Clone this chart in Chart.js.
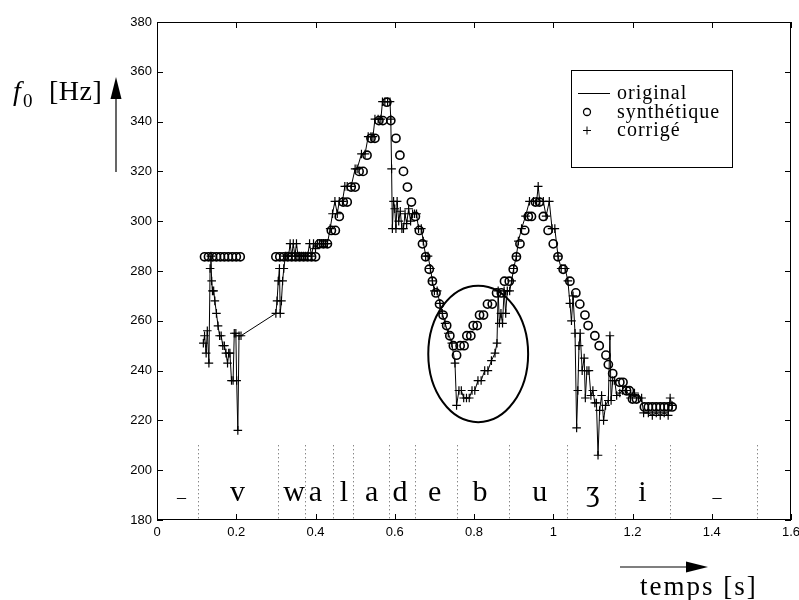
<!DOCTYPE html>
<html>
<head>
<meta charset="utf-8">
<script src="https://cdn.jsdelivr.net/npm/chart.js@4.4.0/dist/chart.umd.min.js"></script>
<style>
  html, body { margin: 0; padding: 0; background: #fff; }
  #wrap { width: 799px; height: 600px; }
</style>
</head>
<body>
<div id="wrap"><canvas id="grafico" width="799" height="600"></canvas></div>
<script>
// contour original (f0 mesuré), temps en s / fréquence en Hz
const origT = [
  0.117, 0.12, 0.124, 0.127, 0.131, 0.134, 0.136, 0.138, 0.14, 0.143, 0.146, 0.15, 0.154, 0.158, 0.162,
  0.166, 0.17, 0.174, 0.178, 0.181, 0.184, 0.188, 0.192, 0.195, 0.199, 0.201, 0.204, 0.207, 0.212,
  0.30, 0.303, 0.306, 0.309, 0.311, 0.314, 0.317, 0.32, 0.324, 0.328, 0.332, 0.336, 0.34, 0.344, 0.348,
  0.352, 0.356, 0.36, 0.365, 0.37, 0.375, 0.38, 0.385, 0.39, 0.395, 0.40, 0.405, 0.41, 0.415, 0.42,
  0.425, 0.43, 0.437, 0.443, 0.449, 0.455, 0.46, 0.468, 0.474, 0.48, 0.49, 0.50, 0.505, 0.516, 0.525,
  0.533, 0.54, 0.545, 0.55, 0.558, 0.565, 0.569, 0.575, 0.582, 0.588, 0.59, 0.592, 0.594, 0.597, 0.60,
  0.603, 0.606, 0.61, 0.614, 0.618, 0.622, 0.626, 0.63, 0.635, 0.64, 0.645, 0.65, 0.655, 0.66, 0.667,
  0.672, 0.678, 0.684, 0.69, 0.695, 0.70, 0.707, 0.714, 0.72, 0.727, 0.735, 0.744, 0.752, 0.756, 0.762,
  0.768, 0.774, 0.781, 0.788, 0.795, 0.802, 0.81, 0.818, 0.827, 0.835, 0.844, 0.853, 0.858, 0.861, 0.864,
  0.868, 0.872, 0.876, 0.88, 0.884, 0.89, 0.895, 0.90, 0.907, 0.912, 0.92, 0.93, 0.94, 0.95, 0.958,
  0.962, 0.966, 0.975, 0.982, 0.99, 0.997, 1.004, 1.012, 1.02, 1.03, 1.037, 1.042, 1.046, 1.05, 1.055,
  1.059, 1.062, 1.065, 1.068, 1.073, 1.078, 1.081, 1.085, 1.09, 1.095, 1.1, 1.105, 1.109, 1.113, 1.117,
  1.122, 1.127, 1.132, 1.139, 1.143, 1.146, 1.15, 1.155, 1.16, 1.168, 1.175, 1.185, 1.195, 1.205, 1.215,
  1.223, 1.228, 1.24, 1.25, 1.26, 1.27, 1.28, 1.29, 1.295, 1.30
];
const origF = [
  251, 254, 247, 256, 243, 281, 286, 276, 272, 272, 268, 263, 258, 254, 254,
  250, 250, 247, 243, 247, 247, 236, 236, 255, 255, 236, 216, 254, 254,
  263, 268, 276, 281, 263, 268, 276, 281, 286, 286, 286, 291, 286, 291, 286,
  291, 286, 286, 286, 286, 286, 286, 291, 286, 291, 289, 291, 291, 291, 291,
  291, 291, 297, 303, 308, 303, 308, 308, 314, 314, 314, 321, 321, 327, 327,
  334, 334, 334, 341, 341, 341, 348, 348, 348, 348, 341, 321, 297, 308, 305,
  297, 308, 300, 304, 297, 297, 303, 299, 305, 300, 303, 303, 303, 297, 297,
  292, 286, 286, 281, 276, 272, 272, 267, 263, 259, 255, 251, 243, 226, 232,
  232, 229, 229, 229, 232, 232, 236, 236, 240, 240, 244, 247, 251, 272, 259,
  263, 259, 272, 263, 272, 272, 276, 281, 286, 292, 297, 302, 308, 308, 308,
  314, 308, 308, 302, 308, 297, 297, 286, 281, 281, 276, 267, 260, 270, 255,
  217, 232, 250, 255, 240, 245, 229, 240, 240, 230, 232, 227, 227, 206, 224,
  230, 220, 226, 228, 254, 228, 236, 236, 230, 231, 232, 232, 229, 231, 229,
  229, 223, 223, 222, 223, 222, 223, 222, 229, 226
];

// contour synthétique (cercles)
const synthT = [
  0.12, 0.13, 0.14, 0.15, 0.16, 0.17, 0.18, 0.19, 0.20, 0.21,
  0.30, 0.31, 0.32, 0.33, 0.34, 0.35, 0.36, 0.37, 0.38, 0.39, 0.40,
  0.41, 0.42, 0.43, 0.44, 0.45, 0.46, 0.47, 0.48, 0.49, 0.50, 0.51, 0.52, 0.53, 0.54, 0.55, 0.56, 0.57, 0.58,
  0.59, 0.603, 0.613, 0.622, 0.632, 0.642, 0.652, 0.662, 0.670, 0.678, 0.687, 0.695, 0.704, 0.713, 0.722,
  0.731, 0.739, 0.748, 0.756, 0.765, 0.775, 0.782, 0.792, 0.798, 0.808, 0.814, 0.824, 0.834, 0.846, 0.857,
  0.869, 0.877, 0.889, 0.899, 0.907, 0.916, 0.928, 0.937, 0.945, 0.955, 0.965, 0.975, 0.987, 1.0, 1.012,
  1.025, 1.042, 1.057, 1.067, 1.08, 1.088, 1.105, 1.116, 1.133, 1.139, 1.15, 1.168, 1.176, 1.185, 1.192,
  1.2, 1.21, 1.23, 1.24, 1.25, 1.26, 1.27, 1.28, 1.29, 1.30
];
const synthF = [
  285.7, 285.7, 285.7, 285.7, 285.7, 285.7, 285.7, 285.7, 285.7, 285.7,
  285.7, 285.7, 285.7, 285.7, 285.7, 285.7, 285.7, 285.7, 285.7, 285.7, 285.7,
  290.9, 290.9, 290.9, 296.3, 296.3, 301.9, 307.7, 307.7, 313.7, 313.7, 320, 320, 326.5, 333.3, 333.3, 340.4, 340.4, 347.8,
  340.4, 333.3, 326.5, 320, 313.7, 307.7, 301.9, 296.3, 290.9, 285.7, 280.7, 275.9, 271.2, 266.7, 262.3,
  258.1, 254.0, 250.0, 246.2, 250.0, 250.0, 254.0, 254.0, 258.1, 258.1, 262.3, 262.3, 266.7, 266.7, 271.2,
  271.2, 275.9, 275.9, 280.7, 285.7, 290.9, 296.3, 301.9, 301.9, 307.7, 307.7, 301.9, 296.3, 290.9, 285.7,
  280.7, 275.9, 271.2, 266.7, 262.3, 258.1, 254.0, 250.0, 246.2, 242.4, 238.8, 235.3, 235.3, 231.9, 231.9,
  228.6, 228.6, 225.4, 225.4, 225.4, 225.4, 225.4, 225.4, 225.4, 225.4
];

// graduations
const xTicks = [0, 0.2, 0.4, 0.6, 0.8, 1, 1.2, 1.4, 1.6];
const yTicks = [180, 200, 220, 240, 260, 280, 300, 320, 340, 360, 380];

// segmentation phonétique
const bornes = [0.104, 0.305, 0.373, 0.445, 0.495, 0.586, 0.651, 0.758, 0.889, 1.035, 1.155, 1.294, 1.514];
const phonemes = ['_', 'v', 'w', 'a', 'l', 'a', 'd', 'e', 'b', 'u', 'ʒ', 'i', '_'];
const phonemeT = [0.062, 0.203, 0.346, 0.40, 0.472, 0.542, 0.613, 0.701, 0.815, 0.966, 1.10, 1.225, 1.413];

const pts = (ts, fs) => ts.map((t, i) => ({ x: t, y: fs[i] }));

const serif = '"Liberation Serif", "Times New Roman", serif';

function texte(ctx, str, x, y, size, opts = {}) {
  ctx.save();
  ctx.font = (opts.italic ? 'italic ' : '') + size + 'px ' + serif;
  ctx.fillStyle = '#000';
  ctx.textAlign = opts.align || 'left';
  ctx.textBaseline = 'alphabetic';
  if ('letterSpacing' in ctx) ctx.letterSpacing = (opts.spacing || 0) + 'px';
  ctx.fillText(str, x, y);
  ctx.restore();
}

function fleche(ctx, x1, y1, x2, y2) {
  const ang = Math.atan2(y2 - y1, x2 - x1);
  const L = 22, W = 5.5;
  ctx.save();
  ctx.strokeStyle = '#000';
  ctx.lineWidth = 1.2;
  ctx.beginPath();
  ctx.moveTo(x1, y1);
  ctx.lineTo(x2 - L * Math.cos(ang), y2 - L * Math.sin(ang));
  ctx.stroke();
  ctx.fillStyle = '#000';
  ctx.beginPath();
  ctx.moveTo(x2, y2);
  ctx.lineTo(x2 - L * Math.cos(ang) - W * Math.sin(ang), y2 - L * Math.sin(ang) + W * Math.cos(ang));
  ctx.lineTo(x2 - L * Math.cos(ang) + W * Math.sin(ang), y2 - L * Math.sin(ang) - W * Math.cos(ang));
  ctx.closePath();
  ctx.fill();
  ctx.restore();
}

const decor = {
  id: 'decor',
  beforeDatasetsDraw(chart) {
    const { ctx, scales: { x, y } } = chart;
    // bornes de segments en pointillés
    ctx.save();
    ctx.strokeStyle = '#555';
    ctx.lineWidth = 1;
    ctx.setLineDash([1, 3]);
    bornes.forEach(t => {
      const px = Math.round(x.getPixelForValue(t)) + 0.5;
      ctx.beginPath();
      ctx.moveTo(px, y.getPixelForValue(210));
      ctx.lineTo(px, y.getPixelForValue(180));
      ctx.stroke();
    });
    ctx.restore();
    phonemes.forEach((p, i) => {
      const px = x.getPixelForValue(phonemeT[i]);
      const py = y.getPixelForValue(187.8);
      if (p === '_') texte(ctx, p, px, py - 4, 18, { align: 'center' });
      else texte(ctx, p, px, py, 30, { align: 'center' });
    });
  },
  afterDatasetsDraw(chart) {
    const { ctx, scales: { x, y } } = chart;
    // zone entourée
    const cx = x.getPixelForValue(0.8106), cy = y.getPixelForValue(246.7);
    const rx = x.getPixelForValue(0.8106 + 0.126) - cx;
    const ry = cy - y.getPixelForValue(246.7 + 27.4);
    ctx.save();
    ctx.strokeStyle = '#000';
    ctx.lineWidth = 2;
    ctx.beginPath();
    ctx.ellipse(cx, cy, rx, ry, 0, 0, Math.PI * 2);
    ctx.stroke();
    ctx.restore();
  },
  afterDraw(chart) {
    const { ctx, chartArea: a, scales: { x, y } } = chart;
    ctx.save();
    ctx.strokeStyle = '#000';
    ctx.lineWidth = 1;
    ctx.strokeRect(a.left + 0.5, a.top + 0.5, a.right - a.left - 1, a.bottom - a.top - 1);
    ctx.beginPath();
    xTicks.forEach(v => {
      const px = Math.round(x.getPixelForValue(v)) + 0.5;
      ctx.moveTo(px, a.bottom); ctx.lineTo(px, a.bottom - 6);
      ctx.moveTo(px, a.top); ctx.lineTo(px, a.top + 6);
    });
    yTicks.forEach(v => {
      const py = Math.round(y.getPixelForValue(v)) + 0.5;
      ctx.moveTo(a.left, py); ctx.lineTo(a.left + 6, py);
      ctx.moveTo(a.right, py); ctx.lineTo(a.right - 6, py);
    });
    ctx.stroke();
    ctx.restore();

    // légende
    const ds = chart.data.datasets;
    ctx.save();
    ctx.fillStyle = '#fff';
    ctx.fillRect(571, 70, 161, 97);
    ctx.strokeStyle = '#000';
    ctx.lineWidth = 1;
    ctx.strokeRect(571.5, 70.5, 161, 97);
    ctx.beginPath();
    ctx.moveTo(578, 93.5); ctx.lineTo(610, 93.5);
    ctx.stroke();
    ctx.lineWidth = 1.3;
    ctx.beginPath();
    ctx.arc(587, 112, 3.5, 0, Math.PI * 2);
    ctx.stroke();
    ctx.lineWidth = 1;
    ctx.beginPath();
    ctx.moveTo(583, 130.5); ctx.lineTo(591, 130.5);
    ctx.moveTo(587, 126.5); ctx.lineTo(587, 134.5);
    ctx.stroke();
    ctx.restore();
    texte(ctx, ds[0].label, 617, 99, 20, { spacing: 1 });
    texte(ctx, ds[1].label, 617, 117.5, 20, { spacing: 1 });
    texte(ctx, ds[2].label, 617, 135.5, 20, { spacing: 1 });

    // titres des axes
    texte(ctx, 'f', 13, 100, 28, { italic: true });
    texte(ctx, '0', 23, 107, 19);
    texte(ctx, '[Hz]', 49, 100, 28, { spacing: 0.5 });
    fleche(ctx, 116, 172, 116, 77);
    texte(ctx, 'temps [s]', 640, 595, 27, { spacing: 2 });
    fleche(ctx, 620, 567, 708, 567);
  }
};

const axeCommun = {
  type: 'linear',
  grid: { display: false, drawTicks: false },
  border: { display: false },
  ticks: {
    color: '#000',
    padding: 5,
    autoSkip: false,
    maxRotation: 0,
    font: { family: '"Liberation Sans", Arial, sans-serif', size: 13 },
    callback: v => String(v)
  }
};

new Chart(document.getElementById('grafico'), {
  type: 'scatter',
  data: {
    datasets: [
      {
        type: 'line',
        label: 'original',
        data: pts(origT, origF),
        borderColor: '#000',
        borderWidth: 1,
        pointRadius: 0,
        tension: 0,
        fill: false,
        order: 3
      },
      {
        label: 'synthétique',
        data: pts(synthT, synthF),
        pointStyle: 'circle',
        pointRadius: 4.1,
        borderWidth: 1.6,
        borderColor: '#000',
        backgroundColor: 'rgba(0,0,0,0)',
        order: 2
      },
      {
        label: 'corrigé',
        data: pts(origT, origF),
        pointStyle: 'cross',
        pointRadius: 4.3,
        borderWidth: 1.2,
        borderColor: '#000',
        order: 1
      }
    ]
  },
  options: {
    responsive: false,
    animation: false,
    devicePixelRatio: 1,
    layout: { padding: { left: 0, top: 22, right: 8, bottom: 0 } },
    scales: {
      x: {
        ...axeCommun,
        min: 0, max: 1.6,
        afterBuildTicks: s => { s.ticks = xTicks.map(v => ({ value: v })); },
        afterFit: s => { s.height = 80; s.paddingLeft = 0; s.paddingRight = 0; }
      },
      y: {
        ...axeCommun,
        min: 180, max: 380,
        afterBuildTicks: s => { s.ticks = yTicks.map(v => ({ value: v })); },
        afterFit: s => { s.width = 157; s.paddingTop = 0; s.paddingBottom = 0; }
      }
    },
    plugins: {
      legend: { display: false },
      tooltip: { enabled: false }
    }
  },
  plugins: [decor]
});
</script>
</body>
</html>
